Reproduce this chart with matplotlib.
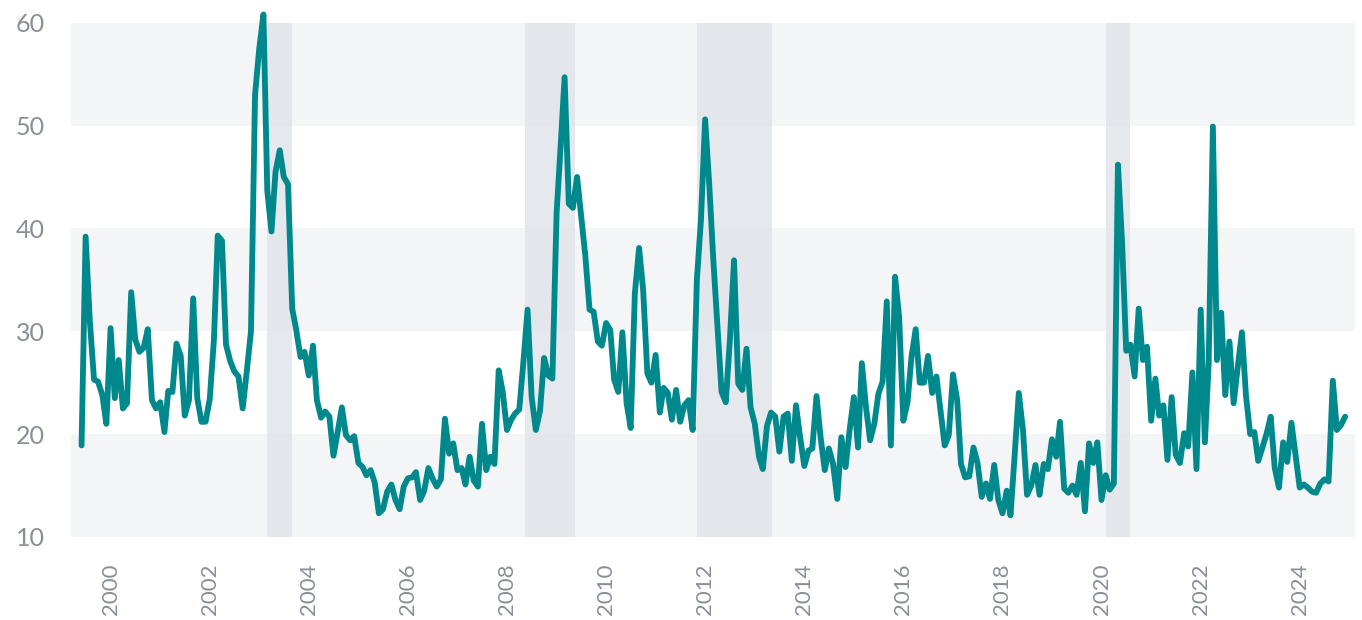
import matplotlib.pyplot as plt
import matplotlib.dates as mdates
import pandas as pd

# monthly values, Jun 1999 .. Dec 2024
vol = [
    18.9, 39.2, 31.0, 25.3, 25.1, 23.8, 21.0, 30.3, 23.5, 27.2,
    22.5, 23.0, 33.8, 29.2, 28.0, 28.4, 30.2, 23.3, 22.5, 23.1,
    20.2, 24.2, 24.1, 28.8, 27.6, 21.8, 23.3, 33.2, 23.5, 21.2,
    21.2, 23.4, 29.2, 39.3, 38.8, 28.7, 27.1, 26.1, 25.6, 22.5,
    26.1, 30.0, 53.0, 57.5, 60.8, 43.7, 39.7, 45.5, 47.6, 45.0,
    44.3, 32.2, 30.1, 27.5, 28.0, 25.7, 28.6, 23.3, 21.6, 22.2,
    21.7, 17.9, 20.2, 22.6, 19.9, 19.4, 19.8, 17.2, 16.8, 16.0,
    16.5, 15.3, 12.3, 12.7, 14.4, 15.1, 13.6, 12.7, 14.9, 15.7,
    15.8, 16.3, 13.6, 14.5, 16.7, 15.7, 14.9, 15.6, 21.5, 18.1,
    19.1, 16.5, 16.7, 15.1, 17.8, 15.5, 14.9, 21.0, 16.5, 17.8,
    17.1, 26.2, 24.1, 20.4, 21.4, 22.0, 22.4, 27.0, 32.1, 23.6,
    20.4, 22.3, 27.4, 25.7, 25.4, 41.5, 48.3, 54.7, 42.4, 42.0,
    45.0, 41.2, 37.3, 32.1, 31.9, 29.0, 28.6, 30.8, 30.1, 25.3,
    24.1, 29.9, 23.0, 20.6, 33.7, 38.1, 34.0, 25.9, 25.0, 27.7,
    22.1, 24.5, 24.0, 21.4, 24.3, 21.2, 22.8, 23.3, 20.4, 35.0,
    40.8, 50.6, 44.1, 37.0, 30.5, 24.1, 23.1, 29.1, 36.9, 24.9,
    24.3, 28.3, 22.6, 21.0, 17.8, 16.6, 20.8, 22.1, 21.7, 18.3,
    21.7, 22.0, 17.4, 22.8, 19.7, 16.9, 18.4, 18.6, 23.7, 19.7,
    16.5, 18.6, 17.1, 13.7, 19.7, 16.8, 20.4, 23.6, 18.7, 26.9,
    22.6, 19.4, 21.0, 23.9, 25.1, 32.9, 18.9, 35.3, 31.4, 21.3,
    23.1, 27.5, 30.2, 25.0, 25.0, 27.6, 24.0, 25.6, 22.3, 18.9,
    19.9, 25.8, 23.3, 17.1, 15.8, 15.9, 18.7, 17.2, 13.9, 15.2,
    13.7, 17.0, 13.6, 12.3, 14.5, 12.1, 18.0, 24.0, 20.4, 14.1,
    15.0, 17.0, 14.1, 17.1, 16.6, 19.5, 17.8, 21.2, 14.7, 14.3,
    15.0, 14.1, 17.2, 12.5, 19.1, 17.2, 19.2, 13.6, 16.0, 14.6,
    15.2, 46.2, 38.5, 28.1, 28.7, 25.6, 32.2, 27.2, 28.5, 21.3,
    25.4, 21.8, 22.8, 17.5, 23.6, 18.0, 17.2, 20.1, 18.8, 26.0,
    16.6, 32.1, 19.2, 26.9, 49.9, 27.2, 31.8, 23.8, 29.0, 23.0,
    26.5, 29.9, 23.7, 20.0, 20.2, 17.4, 18.7, 20.0, 21.7, 16.7,
    14.8, 19.2, 17.3, 21.1, 18.0, 14.8, 15.1, 14.8, 14.4, 14.3,
    15.2, 15.6, 15.4, 25.2, 20.4, 20.9, 21.7,
]
dates = pd.date_range('1999-06-01', periods=len(vol), freq='MS')

shade_start = ['2003-03-01', '2008-05-15', '2011-11-05', '2020-02-01']
shade_end = ['2003-09-01', '2009-05-20', '2013-05-10', '2020-08-01']

y_ticks = [10, 20, 30, 40, 50, 60]
x_years = list(range(2000, 2025, 2))

plt.rcParams['font.family'] = ['Lato', 'DejaVu Sans']
fig = plt.figure(figsize=(13.62, 6.2), dpi=100)
ax = fig.add_axes([0.0521, 0.1339, 0.9428, 0.8295])

# alternating horizontal bands
for lo in (10, 30, 50):
    ax.axhspan(lo, lo + 10, color='#f3f5f7', lw=0, zorder=0)

for s, e in zip(shade_start, shade_end):
    ax.axvspan(pd.Timestamp(s), pd.Timestamp(e), color='#dfe3e8', alpha=0.8,
               lw=0, zorder=1)

ax.plot(dates, vol, color='#00898d', lw=4.2, zorder=3, clip_on=False,
        solid_joinstyle='round', solid_capstyle='round')

ax.set_ylim(10, 60)
ax.set_xlim(pd.Timestamp('1999-03-15'), pd.Timestamp('2025-02-12'))
ax.set_yticks(y_ticks)
ax.set_xticks([pd.Timestamp(f'{y}-01-01') for y in x_years])
ax.xaxis.set_major_formatter(mdates.DateFormatter('%Y'))

for sp in ax.spines.values():
    sp.set_visible(False)
ax.tick_params(axis='both', length=0, colors='#8a8e96')
ax.tick_params(axis='y', pad=19, labelsize=18)
ax.tick_params(axis='x', pad=19, labelrotation=90, labelsize=16)

fig.savefig('out.png', dpi=100, facecolor='white')
